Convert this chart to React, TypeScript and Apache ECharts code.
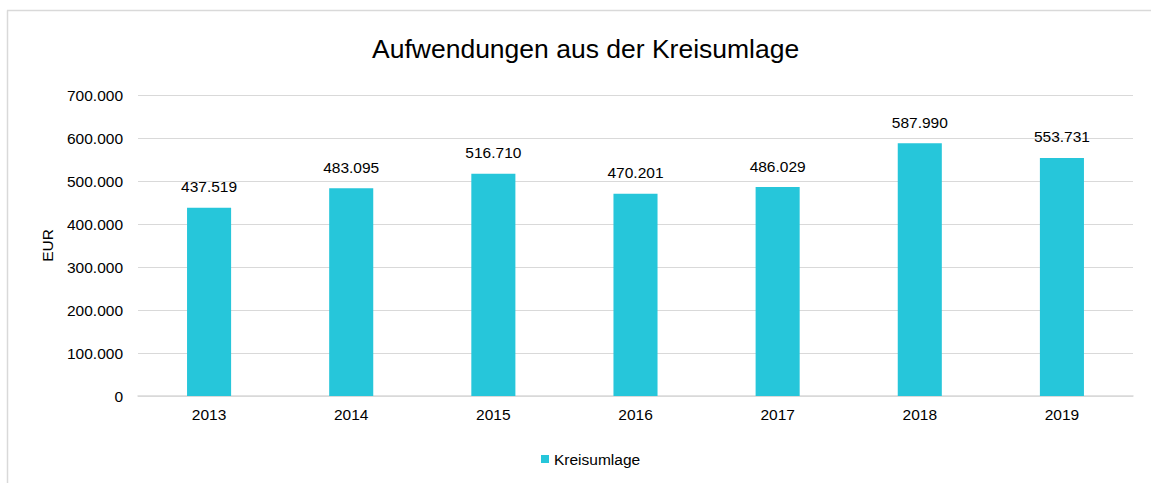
import React, { useEffect, useRef } from "react";
import * as echarts from "echarts";

const categories = ["2013", "2014", "2015", "2016", "2017", "2018", "2019"];
const values = [437519, 483095, 516710, 470201, 486029, 587990, 553731];
const seriesName = "Kreisumlage";
const titleText = "Aufwendungen aus der Kreisumlage";
const yAxisName = "EUR";

const fmt = (v: number) => {
  const s = Math.round(v).toString();
  return s.replace(/\B(?=(\d{3})+(?!\d))/g, ".");
};

export default function App() {
  const ref = useRef<HTMLDivElement>(null);
  useEffect(() => {
    if (!ref.current) return;
    const chart = echarts.init(ref.current, undefined, { renderer: "svg" });
    const font = "'Liberation Sans', Arial, sans-serif";
    const fs = 15.5;
    chart.setOption({
      animation: false,
      backgroundColor: "#ffffff",
      textStyle: { fontFamily: font },
      title: {
        text: titleText,
        left: 367,
        top: 30,
        textStyle: { fontFamily: font, fontSize: 26.5, fontWeight: "normal", color: "#000000" },
      },
      graphic: [
        { type: "line", shape: { x1: 7.5, y1: 10.5, x2: 7.5, y2: 483 }, style: { stroke: "#d9d9d9", lineWidth: 1.5 } },
        { type: "line", shape: { x1: 7, y1: 10.5, x2: 1151, y2: 10.5 }, style: { stroke: "#d9d9d9", lineWidth: 1.5 } },
      ],
      legend: {
        left: 536,
        top: 446,
        itemWidth: 8,
        itemHeight: 8,
        icon: "rect",
        textStyle: { fontFamily: font, fontSize: fs, color: "#000000" },
        data: [seriesName],
      },
      grid: { left: 138, right: 18, top: 95, bottom: 87, containLabel: false },
      xAxis: {
        type: "category",
        data: categories,
        axisTick: { show: false },
        axisLine: { lineStyle: { color: "#d9d9d9", width: 1.5 } },
        axisLabel: { fontFamily: font, fontSize: fs, color: "#000000", margin: 10 },
      },
      yAxis: {
        type: "value",
        min: 0,
        max: 700000,
        interval: 100000,
        name: yAxisName,
        nameLocation: "middle",
        nameGap: 83,
        nameTextStyle: { fontFamily: font, fontSize: fs, color: "#000000" },
        axisLine: { show: false },
        axisTick: { show: false },
        splitLine: { lineStyle: { color: "#d9d9d9", width: 1 } },
        axisLabel: { fontFamily: font, fontSize: fs, color: "#000000", margin: 15, formatter: (v: number) => fmt(v) },
      },
      series: [
        {
          name: seriesName,
          type: "bar",
          data: values,
          barWidth: "31%",
          itemStyle: { color: "#26c6da" },
          label: {
            show: true,
            position: "top",
            distance: 13,
            fontFamily: font,
            fontSize: fs,
            color: "#000000",
            formatter: (p: any) => fmt(p.value),
          },
        },
      ],
    });
    return () => chart.dispose();
  }, []);
  return (
    <div
      ref={ref}
      style={{ position: "fixed", left: 0, top: 0, width: 1151, height: 483 }}
    />
  );
}
